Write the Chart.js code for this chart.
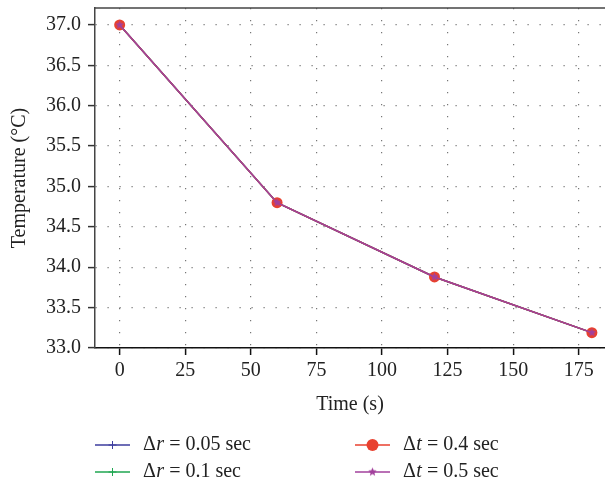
<!DOCTYPE html>
<html>
<head>
<meta charset="utf-8">
<script src="https://cdn.jsdelivr.net/npm/chart.js@4.4.1/dist/chart.umd.min.js"></script>
<style>
  html, body { margin: 0; padding: 0; background: #fff; overflow: hidden; }
  #wrap { width: 605px; height: 485px; overflow: hidden; }
  canvas { display: block; }
</style>
</head>
<body>
<div id="wrap"><canvas id="c" width="605" height="485"></canvas></div>
<script>
// ---- data ----
const times = [0, 60, 120, 180];
const dr005 = [37.0, 34.80, 33.88, 33.19];   // Δr = 0.05 sec
const dr01  = [37.0, 34.80, 33.88, 33.19];   // Δr = 0.1 sec
const dt04  = [37.0, 34.80, 33.88, 33.19];   // Δt = 0.4 sec
const dt05  = [37.0, 34.80, 33.88, 33.19];   // Δt = 0.5 sec
const xTicks = [0, 25, 50, 75, 100, 125, 150, 175];
const yTicks = [33.0, 33.5, 34.0, 34.5, 35.0, 35.5, 36.0, 36.5, 37.0];
const xTitle = 'Time (s)';
const yTitle = 'Temperature (°C)';
const legendItems = [
  { sym: 'Δ', v: 'r', rest: ' = 0.05 sec' },
  { sym: 'Δ', v: 'r', rest: ' = 0.1 sec' },
  { sym: 'Δ', v: 't', rest: ' = 0.4 sec' },
  { sym: 'Δ', v: 't', rest: ' = 0.5 sec' }
];

const FONT = '"Liberation Serif", "DejaVu Serif", serif';
const FS = 20;
const BLUE = '#3d3d9e', GREEN = '#1fa651', RED = '#e8412f', PURPLE = '#a2409c';

// filled five-point star marker
function makeStar(r, color) {
  const c = document.createElement('canvas');
  const s = Math.ceil(r * 2 + 2);
  c.width = s; c.height = s;
  const g = c.getContext('2d');
  g.fillStyle = color;
  g.beginPath();
  for (let i = 0; i < 10; i++) {
    const rad = i % 2 === 0 ? r : r * 0.45;
    const a = -Math.PI / 2 + i * Math.PI / 5;
    const x = s / 2 + rad * Math.cos(a), y = s / 2 + rad * Math.sin(a);
    if (i === 0) g.moveTo(x, y); else g.lineTo(x, y);
  }
  g.closePath();
  g.fill();
  return c;
}
const star = makeStar(4.5, PURPLE);

const pts = arr => times.map((t, i) => ({ x: t, y: arr[i] }));

const dsBlue  = { label: 'dr005', data: pts(dr005), borderColor: BLUE, backgroundColor: BLUE, borderWidth: 1.5, pointStyle: 'cross', pointRadius: 4, pointBorderWidth: 1 };
const dsGreen = { label: 'dr01', data: pts(dr01), borderColor: GREEN, backgroundColor: GREEN, borderWidth: 1.5, pointStyle: 'cross', pointRadius: 4, pointBorderWidth: 1 };
const dsRed   = { label: 'dt04', data: pts(dt04), borderColor: RED, backgroundColor: RED, borderWidth: 1.5, pointStyle: 'circle', pointRadius: 5.5, pointBorderWidth: 0 };
const dsPurp  = { label: 'dt05', data: pts(dt05), borderColor: PURPLE, backgroundColor: PURPLE, borderWidth: 1.5, pointStyle: star, pointRadius: 4.5 };

const legendPlugin = {
  id: 'customLegend',
  afterDraw(chart) {
    const ctx = chart.ctx;
    const ca = chart.chartArea;
    ctx.save();
    ctx.strokeStyle = '#444';
    ctx.lineWidth = 1.5;
    ctx.beginPath();
    ctx.moveTo(ca.left, ca.top);
    ctx.lineTo(ca.right, ca.top);
    ctx.stroke();

    const layout = [
      { ds: dsBlue,  item: legendItems[0], x: 95,  y: 445 },
      { ds: dsGreen, item: legendItems[1], x: 95,  y: 472 },
      { ds: dsRed,   item: legendItems[2], x: 355, y: 445 },
      { ds: dsPurp,  item: legendItems[3], x: 355, y: 472 }
    ];
    layout.forEach(L => {
      const ds = L.ds;
      ctx.strokeStyle = ds.borderColor;
      ctx.lineWidth = 1.5;
      ctx.beginPath();
      ctx.moveTo(L.x, L.y);
      ctx.lineTo(L.x + 35, L.y);
      ctx.stroke();
      const cx = L.x + 17.5;
      if (ds.pointStyle === 'cross') {
        ctx.lineWidth = 1;
        ctx.beginPath();
        ctx.moveTo(cx, L.y - 4); ctx.lineTo(cx, L.y + 4);
        ctx.moveTo(cx - 4, L.y); ctx.lineTo(cx + 4, L.y);
        ctx.stroke();
      } else if (ds.pointStyle === 'circle') {
        ctx.fillStyle = ds.backgroundColor;
        ctx.beginPath();
        ctx.arc(cx, L.y, 6, 0, Math.PI * 2);
        ctx.fill();
      } else {
        ctx.drawImage(star, cx - star.width / 2, L.y - star.height / 2);
      }
      ctx.fillStyle = '#222';
      ctx.textBaseline = 'middle';
      ctx.textAlign = 'left';
      let tx = L.x + 48;
      ctx.font = FS + 'px ' + FONT;
      ctx.fillText(L.item.sym, tx, L.y);
      tx += ctx.measureText(L.item.sym).width + 0.5;
      ctx.font = 'italic ' + FS + 'px ' + FONT;
      ctx.fillText(L.item.v, tx, L.y);
      tx += ctx.measureText(L.item.v).width;
      ctx.font = FS + 'px ' + FONT;
      ctx.fillText(L.item.rest, tx, L.y);
    });
    ctx.restore();
  }
};

new Chart(document.getElementById('c'), {
  type: 'line',
  data: { datasets: [dsPurp, dsRed, dsGreen, dsBlue] },
  options: {
    responsive: false,
    animation: false,
    events: [],
    layout: { autoPadding: false, padding: { top: 8, right: 0, bottom: 62, left: 0 } },
    plugins: { legend: { display: false }, tooltip: { enabled: false } },
    elements: { line: { tension: 0 } },
    scales: {
      x: {
        type: 'linear',
        min: -9.4, max: 185,
        afterBuildTicks: s => { s.ticks = xTicks.map(v => ({ value: v })); },
        afterFit: s => { s.height = 75; s.paddingLeft = 0; s.paddingRight = 0; },
        ticks: { font: { family: FONT, size: FS }, color: '#222', padding: 4, maxRotation: 0, autoSkip: false },
        grid: { color: '#777', lineWidth: 1.2, tickLength: 7, tickColor: '#111', tickWidth: 1.5, tickBorderDash: [] },
        border: { color: '#111', width: 1.5, dash: [1.2, 10.8] },
        title: { display: true, text: xTitle, font: { family: FONT, size: FS }, color: '#222', padding: { top: 4, bottom: 6 } }
      },
      y: {
        type: 'linear',
        min: 33, max: 37.21,
        afterBuildTicks: s => { s.ticks = yTicks.map(v => ({ value: v })); },
        afterFit: s => { s.width = 95; s.paddingTop = 0; s.paddingBottom = 0; },
        ticks: { font: { family: FONT, size: FS }, color: '#222', padding: 7, callback: v => Number(v).toFixed(1) },
        grid: { color: '#777', lineWidth: 1.2, tickLength: 7, tickColor: '#333', tickWidth: 1.5, tickBorderDash: [] },
        border: { color: '#444', width: 1.5, dash: [1.2, 10.8] },
        title: { display: true, text: yTitle, font: { family: FONT, size: FS }, color: '#222', padding: { top: 8, bottom: 4 } }
      }
    }
  },
  plugins: [legendPlugin]
});
</script>
</body>
</html>
